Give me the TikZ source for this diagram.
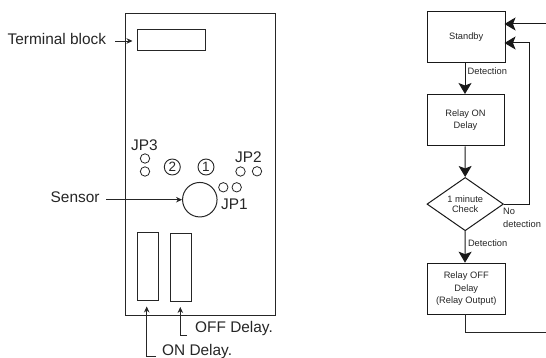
\documentclass[tikz,border=0pt]{standalone}
\usepackage{fontspec}
\setmainfont{Liberation Sans}
\usetikzlibrary{arrows.meta,shapes.geometric}
\definecolor{ink}{gray}{0.15}
\tikzset{
  x=1pt,y=-1pt,
  board/.style={draw=ink,line width=1pt,inner sep=0pt,anchor=north west},
  pin/.style={circle,draw=ink,line width=0.8pt,minimum size=9.4pt,inner sep=0pt},
  numdot/.style={circle,draw=ink,line width=0.9pt,minimum size=16pt,inner sep=0pt,font=\fontsize{13.5}{14}\selectfont,text=ink},
  biglab/.style={font=\fontsize{15.4}{16}\selectfont,text=ink,inner sep=0pt},
  flowbox/.style={draw=black!90,line width=1pt,inner sep=0pt,anchor=north west,align=center,font=\fontsize{9.3}{12.3}\selectfont,text=ink},
  smlab/.style={font=\fontsize{9.3}{12}\selectfont,text=ink,inner sep=0pt,anchor=west,align=left},
  thinarrow/.style={draw=ink,line width=0.8pt,-{Stealth[length=6pt,width=5.5pt]}},
  bigarrow/.style={draw=black!90,line width=1pt,-{Stealth[length=11pt,width=13pt,inset=2.5pt]}},
  plainline/.style={draw=ink,line width=1pt},
}
\begin{document}
\begin{tikzpicture}
\useasboundingbox (0,0) rectangle (546,358);
\fill[white] (0,0) rectangle (546,358);
% board
\node[board,minimum width=150.5pt,minimum height=301pt] (brd) at (124.5,13.5) {};
\node[board,minimum width=68pt,minimum height=21pt] (term) at (136.5,29) {};
\node[circle,draw=ink,line width=1pt,minimum size=34.5pt,inner sep=0pt] (sens) at (199.8,199.7) {};
\node[board,minimum width=21pt,minimum height=68pt] (on) at (137,232.3) {};
\node[board,minimum width=21pt,minimum height=68pt] (off) at (169.5,233) {};
\node[pin] (p3a) at (145,158.5) {};
\node[pin] (p3b) at (145,171.5) {};
\node[pin] (p2a) at (240.5,171.5) {};
\node[pin] (p2b) at (257,171.3) {};
\node[pin] (p1a) at (223.3,187.3) {};
\node[pin] (p1b) at (236.7,187.3) {};
\node[numdot] (n2) at (172.3,167) {2};
\node[numdot] (n1) at (206,167) {1};
\node[biglab] (jp3) at (144.5,145) {JP3};
\node[biglab] (jp2) at (248.5,157) {JP2};
\node[biglab] (jp1) at (234.5,204.5) {JP1};
\node[biglab,anchor=west] (tl) at (7.5,38.5) {Terminal block};
\node[biglab,anchor=west] (sl) at (50.5,197.5) {Sensor};
\node[biglab,anchor=west] (ofl) at (195,329) {OFF Delay.};
\node[biglab,anchor=west] (onl) at (162,352) {ON Delay.};
\coordinate (onup) at (146.7,306.5);
\coordinate (offup) at (180.3,307);
\coordinate (termin) at (132.5,41);
\coordinate (termout) at (115,41);
\coordinate (sensout) at (106,199.7);
\coordinate (onout) at (156,356.7);
\coordinate (offout) at (187,335);
\draw[thinarrow] (termout) -- (termin);
\draw[thinarrow] (sensout) -- (sens.west);
\draw[thinarrow] (onout) -- (146.7,356.7) -- (onup);
\draw[thinarrow] (offout) -- (180.3,335) -- (offup);
% flow
\node[flowbox,minimum width=77.5pt,minimum height=51pt] (st) at (427,11.5) {Standby};
\node[flowbox,minimum width=77pt,minimum height=51.5pt] (ron) at (426.5,94) {Relay ON\\Delay};
\node[diamond,draw=black!90,line width=1pt,minimum width=76.5pt,minimum height=50.3pt,inner sep=0pt,align=center,font=\fontsize{9.3}{10.8}\selectfont,text=ink] (chk) at (465.2,204.1) {1 minute\\Check};
\node[flowbox,minimum width=77.5pt,minimum height=51.3pt] (roff) at (427,262.7) {Relay OFF\\Delay\\(Relay Output)};
\coordinate (inA) at (546,24);
\coordinate (inB) at (546,332.5);
\coordinate (tA) at (504.5,24);
\coordinate (tB) at (504.5,43);
\draw[bigarrow] (st.south -| 465,0) -- (465,94);
\draw[bigarrow] (ron.south -| 465,0) -- (chk.north);
\draw[bigarrow] (chk.south) -- (465,262.7);
\draw[bigarrow] (inA) -- (tA);
\draw[bigarrow] (chk.east) -- (529,204.1) -- (529,43) -- (tB);
\draw[plainline] (465,314) -- (465,332.5) -- (inB);
\node[smlab] (l1) at (467.5,71.5) {Detection};
\node[smlab] (l2) at (467.8,243.5) {Detection};
\node[smlab] (l3) at (503,211.8) {No};
\node[smlab] (l5) at (503,224) {detection};
\end{tikzpicture}
\end{document}
